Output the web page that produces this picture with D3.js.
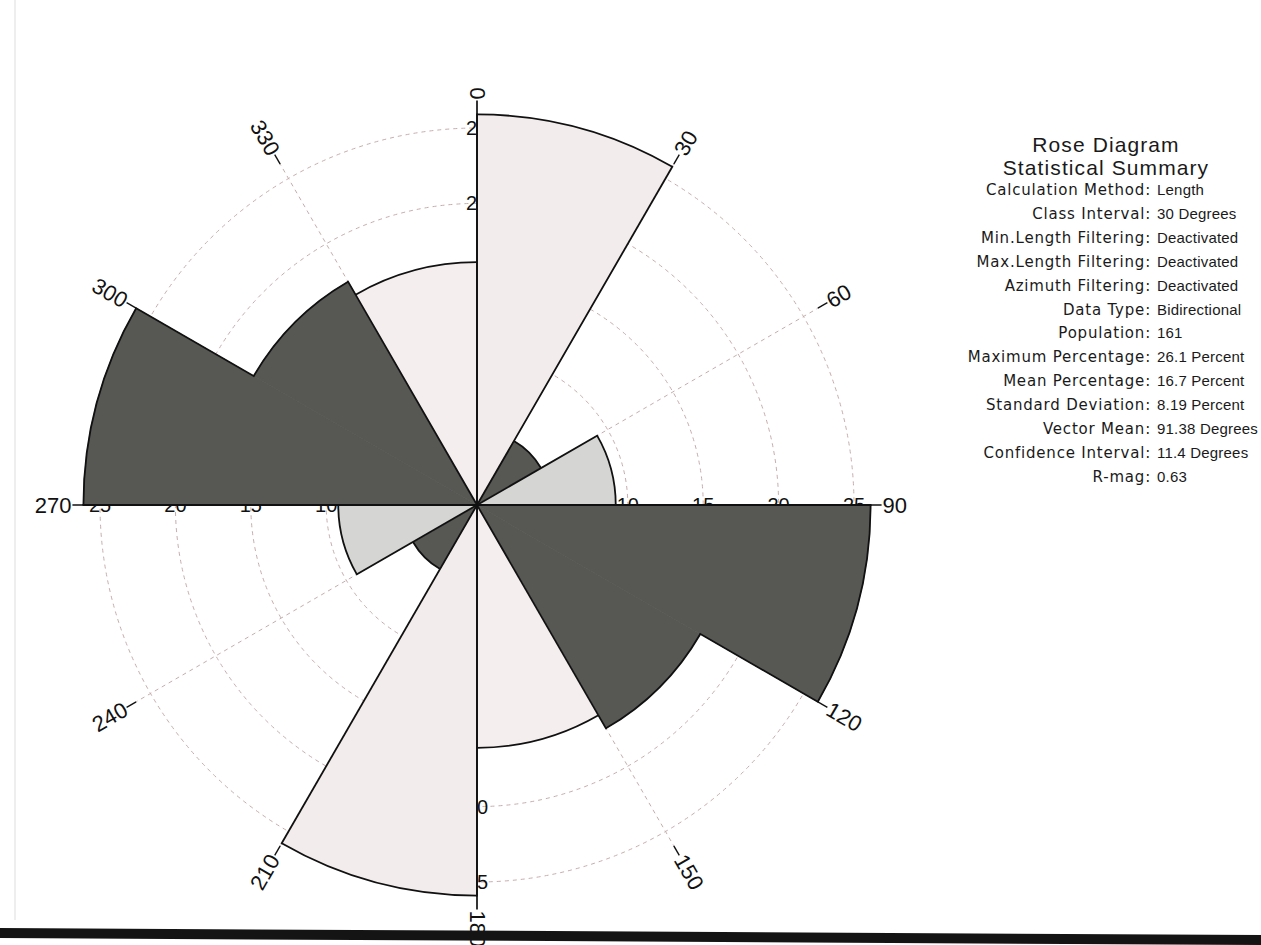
<!DOCTYPE html>
<html>
<head>
<meta charset="utf-8">
<script src="https://cdn.jsdelivr.net/npm/d3@7"></script>
<style>
  html, body { margin: 0; padding: 0; background: #ffffff; }
  svg { display: block; }
</style>
</head>
<body>
<svg id="chart" width="1261" height="945"></svg>
<script>
// ---- data ----
const classStarts = [0, 30, 60, 90, 120, 150];          // azimuth class starts (deg)
const classWidth = 30;                                  // class interval (deg)
const percents = [25.9, 4.9, 9.2, 26.1, 17.1, 16.1];    // percent per class (bidirectional)
const ringValues = [10, 15, 20, 25];                    // percentage rings
const spokeAngles = [0, 30, 60, 90, 120, 150, 180, 210, 240, 270, 300, 330];
const maxPercent = 26.1;

const summaryTitle = ["Rose Diagram", "Statistical Summary"];
const summaryLabels = [
  "Calculation Method:", "Class Interval:", "Min.Length Filtering:", "Max.Length Filtering:",
  "Azimuth Filtering:", "Data Type:", "Population:", "Maximum Percentage:",
  "Mean Percentage:", "Standard Deviation:", "Vector Mean:", "Confidence Interval:", "R-mag:"
];
const summaryValues = [
  "Length", "30 Degrees", "Deactivated", "Deactivated", "Deactivated", "Bidirectional",
  "161", "26.1 Percent", "16.7 Percent", "8.19 Percent", "91.38 Degrees", "11.4 Degrees", "0.63"
];

// ---- styles ----
const sectorColors = ["#f3ecec", "#575854", "#d5d5d3", "#575854", "#575854", "#f4eeee"];

// ---- drawing ----
const svg = d3.select("#chart");
const cx = 477, cy = 505;
const r = d3.scaleLinear().domain([0, 25]).range([0, 377]);
const R = r(maxPercent);
const tickLen = 11;
const rad = d => d * Math.PI / 180;
const px = (a, rr) => rr * Math.sin(rad(a));
const py = (a, rr) => -rr * Math.cos(rad(a));

// paper edge / photo artefacts
svg.append("line").attr("x1", 15).attr("y1", 0).attr("x2", 15).attr("y2", 920)
  .attr("stroke", "#e8e8e8").attr("stroke-width", 1.5);

const g = svg.append("g").attr("transform", `translate(${cx},${cy})`);

// rings
g.selectAll("circle.ring").data(ringValues).enter().append("circle")
  .attr("class", "ring").attr("r", d => r(d))
  .attr("fill", "none").attr("stroke", "#c7adad").attr("stroke-width", 1)
  .attr("stroke-dasharray", "4,4");

// dashed spokes (non-cardinal)
const minorSpokes = spokeAngles.filter(a => a % 90 !== 0);
g.selectAll("line.spoke").data(minorSpokes).enter().append("line")
  .attr("class", "spoke")
  .attr("x1", 0).attr("y1", 0)
  .attr("x2", a => px(a, R)).attr("y2", a => py(a, R))
  .attr("stroke", "#c7adad").attr("stroke-width", 1).attr("stroke-dasharray", "4,4");

// ring labels on the four cardinal directions (under the sectors)
const ringLabelData = [];
[0, 90, 180, 270].forEach(a => ringValues.forEach(v => ringLabelData.push({ a, v })));
g.selectAll("text.ringlabel").data(ringLabelData).enter().append("text")
  .attr("class", "ringlabel")
  .attr("x", d => px(d.a, r(d.v))).attr("y", d => py(d.a, r(d.v)))
  .attr("text-anchor", "middle").attr("dominant-baseline", "central")
  .attr("font-family", "Liberation Sans, Arial, sans-serif").attr("font-size", 20)
  .attr("fill", "#111").text(d => d.v);

// sectors (bidirectional -> mirrored), ordered by azimuth
const sectors = [];
classStarts.forEach((s, i) => sectors.push({ start: s, value: percents[i], color: sectorColors[i] }));
classStarts.forEach((s, i) => sectors.push({ start: s + 180, value: percents[i], color: sectorColors[i] }));

const arc = d3.arc()
  .innerRadius(0)
  .outerRadius(d => r(d.value))
  .startAngle(d => rad(d.start))
  .endAngle(d => rad(d.start + classWidth));
g.selectAll("path.sector").data(sectors).enter().append("path")
  .attr("class", "sector").attr("d", arc)
  .attr("fill", d => d.color).attr("stroke", d => d.color).attr("stroke-width", 0.8);

// outlines: outer arcs
const outerArc = d3.arc()
  .innerRadius(d => r(d.value))
  .outerRadius(d => r(d.value))
  .startAngle(d => rad(d.start))
  .endAngle(d => rad(d.start + classWidth));
g.selectAll("path.rim").data(sectors).enter().append("path")
  .attr("class", "rim").attr("d", outerArc)
  .attr("fill", "none").attr("stroke", "#111").attr("stroke-width", 1.8);

// outlines: radial boundaries between neighbouring sectors
const n = sectors.length;
const bounds = sectors.map((s, i) => {
  const prev = sectors[(i - 1 + n) % n];
  const same = prev.color === s.color;
  return {
    a: s.start,
    r0: same ? Math.min(prev.value, s.value) : 0,
    r1: Math.max(prev.value, s.value)
  };
});
g.selectAll("line.bound").data(bounds).enter().append("line")
  .attr("class", "bound")
  .attr("x1", d => px(d.a, r(d.r0))).attr("y1", d => py(d.a, r(d.r0)))
  .attr("x2", d => px(d.a, r(d.r1))).attr("y2", d => py(d.a, r(d.r1)))
  .attr("stroke", "#111").attr("stroke-width", 1.8).attr("stroke-linecap", "square");

// main axes (solid)
[0, 90].forEach(a => {
  const L = R + tickLen;
  g.append("line")
    .attr("x1", px(a, -L)).attr("y1", py(a, -L))
    .attr("x2", px(a, L)).attr("y2", py(a, L))
    .attr("stroke", "#111").attr("stroke-width", 1.7);
});

// ticks at the end of minor spokes
g.selectAll("line.tick").data(minorSpokes).enter().append("line")
  .attr("class", "tick")
  .attr("x1", a => px(a, R)).attr("y1", a => py(a, R))
  .attr("x2", a => px(a, R + tickLen)).attr("y2", a => py(a, R + tickLen))
  .attr("stroke", "#111").attr("stroke-width", 1.4);

// spoke labels
const Lr = R + tickLen + 1;
g.selectAll("text.spokelabel").data(spokeAngles).enter().append("text")
  .attr("class", "spokelabel")
  .attr("transform", a => {
    const rot = a <= 180 ? a - 90 : a - 270;
    return `translate(${px(a, Lr)},${py(a, Lr)}) rotate(${rot})`;
  })
  .attr("text-anchor", a => a <= 180 ? "start" : "end")
  .attr("dominant-baseline", "central")
  .attr("font-family", "Liberation Sans, Arial, sans-serif").attr("font-size", 22)
  .attr("fill", "#111").text(a => a);

// bottom edge of the photographed sheet
svg.append("line").attr("x1", 0).attr("y1", 933).attr("x2", 1261).attr("y2", 940)
  .attr("stroke", "#141414").attr("stroke-width", 10);

// summary
const sx = 1106;
svg.selectAll("text.title").data(summaryTitle).enter().append("text")
  .attr("class", "title")
  .attr("x", sx).attr("y", (d, i) => 152 + i * 23)
  .attr("text-anchor", "middle")
  .attr("font-family", "Liberation Sans, Arial, sans-serif").attr("font-size", 21)
  .attr("letter-spacing", 1.1)
  .attr("fill", "#1a1a1a").text(d => d);

const rowY = i => 195 + i * 23.9;
svg.selectAll("text.slabel").data(summaryLabels).enter().append("text")
  .attr("class", "slabel")
  .attr("x", 1151).attr("y", (d, i) => rowY(i))
  .attr("text-anchor", "end")
  .attr("font-family", "DejaVu Sans, Verdana, sans-serif").attr("font-size", 15)
  .attr("letter-spacing", 0.8)
  .attr("fill", "#1a1a1a").text(d => d);
svg.selectAll("text.svalue").data(summaryValues).enter().append("text")
  .attr("class", "svalue")
  .attr("x", 1157).attr("y", (d, i) => rowY(i))
  .attr("text-anchor", "start")
  .attr("font-family", "Liberation Sans, Arial, sans-serif").attr("font-size", 15)
  .attr("letter-spacing", 0.2)
  .attr("fill", "#1a1a1a").text(d => d);
</script>
</body>
</html>
